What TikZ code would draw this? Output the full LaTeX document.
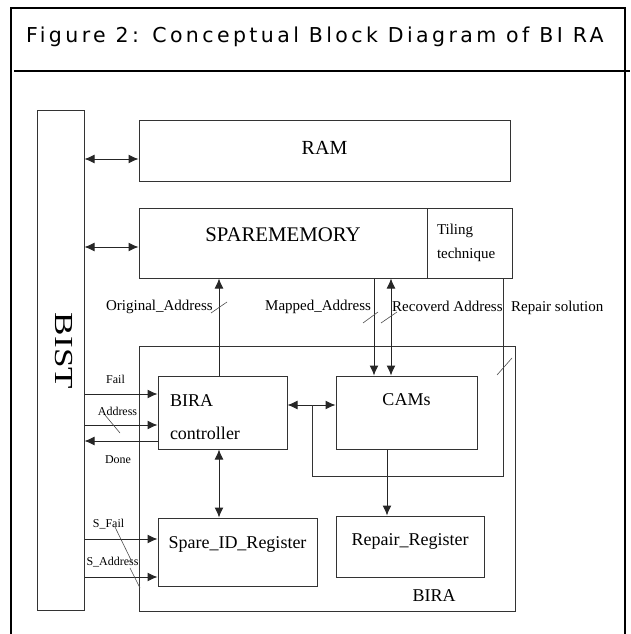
\documentclass[tikz,border=0pt]{standalone}
\usepackage{fontspec}
\setmainfont{Liberation Serif}
\newfontfamily\titlefont{DejaVu Sans}[LetterSpace=16.6]
\usetikzlibrary{arrows.meta}

\begin{document}
\begin{tikzpicture}[
    x=1pt, y=-1pt,
    box/.style={
        draw=black!80,
        line width=1pt,
        inner sep=0pt,
        align=center,
        font=\fontsize{18}{22}\selectfont
    },
    lbl/.style={inner sep=0pt, font=\fontsize{15}{18}\selectfont},
    sig/.style={inner sep=0pt, font=\fontsize{12}{14}\selectfont},
    arrow/.style={-{Latex[length=10pt, width=9pt]}, line width=1pt, draw=black!85},
    dblarrow/.style={{Latex[length=10pt, width=9pt]}-{Latex[length=10pt, width=9pt]}, line width=1pt, draw=black!85},
    wire/.style={line width=1pt, draw=black!80},
    tick/.style={line width=0.6pt, draw=black!70},
    frame/.style={line width=1.6pt}
]
\useasboundingbox (0,0) rectangle (630,634);

% frame and title
\draw[frame] (11,634) -- (11,8) -- (625,8) -- (625,634);
\draw[frame] (14,71) -- (630,71);
\node[anchor=base west, inner sep=0pt, font=\titlefont\fontsize{20.5}{24}\selectfont] (title)
  at (26,43) {Figure 2: Conceptual Block Diagram of BI RA};

% blocks
\node[box, minimum width=47pt, minimum height=500pt] (bist) at (60.5,360) {};
\node[rotate=-90, inner sep=0pt, font=\fontsize{26}{30}\selectfont] (bisttext)
  at (63.5,351) {\scalebox{1.35}[1]{BIST}};
\node[box, minimum width=371pt, minimum height=61pt, font=\fontsize{20}{24}\selectfont,
  text height=13pt, text depth=6pt] (ram) at (324.5,150.5) {RAM};
\node[box, minimum width=288pt, minimum height=70pt, font=\fontsize{20.8}{24}\selectfont,
  text height=13.8pt, text depth=16pt] (spare) at (283,243) {SPAREMEMORY};
\node[box, minimum width=85pt, minimum height=70pt, align=left, text width=65pt,
  font=\fontsize{15}{24}\selectfont] (tiling) at (469.5,243) {Tiling\\technique};
\node[box, minimum width=376pt, minimum height=265pt] (bira) at (327,478.5) {};
\node[anchor=base, inner sep=0pt, font=\fontsize{18}{22}\selectfont] (biratext) at (434,601) {BIRA};
\node[box, minimum width=129pt, minimum height=73pt, align=left, text width=105pt,
  font=\fontsize{18}{33}\selectfont, text depth=23pt] (ctrl) at (222.5,412.5) {BIRA\\controller};
\node[box, minimum width=141pt, minimum height=73pt,
  text height=11.9pt, text depth=25pt] (cams) at (406.5,412.5) {CAMs};
\node[box, minimum width=159pt, minimum height=68pt,
  text height=11.9pt, text depth=18pt] (spareid) at (237.5,552) {Spare\_ID\_Register};
\node[box, minimum width=148pt, minimum height=61pt,
  text height=11.9pt, text depth=13pt] (repreg) at (410,546.5) {Repair\_Register};

% BIST links
\draw[dblarrow] ([yshift=-8.5pt]bist.east |- ram.west) -- ([yshift=-8.5pt]ram.west);
\draw[dblarrow] ([yshift=-4pt]bist.east |- spare.west) -- ([yshift=-4pt]spare.west);
\draw[arrow] ([yshift=18.5pt]bist.east |- ctrl.west) -- ([yshift=18.5pt]ctrl.west);
\draw[arrow] ([yshift=-12.5pt]bist.east |- ctrl.west) -- ([yshift=-12.5pt]ctrl.west);
\draw[arrow] ([yshift=-28.5pt]ctrl.west) -- ([yshift=-28.5pt]bist.east |- ctrl.west);
\draw[arrow] ([yshift=13pt]bist.east |- spareid.west) -- ([yshift=13pt]spareid.west);
\draw[arrow] ([yshift=-25pt]bist.east |- spareid.west) -- ([yshift=-25pt]spareid.west);

\node[sig, anchor=base] (fail) at (115.5,383) {Fail};
\node[sig, anchor=base] (addr) at (117.5,415) {Address};
\node[sig, anchor=base] (done) at (118,463) {Done};
\node[sig, anchor=base] (sfail) at (108.5,527) {S\_Fail};
\node[sig, anchor=base] (saddr) at (112.5,565) {S\_Address};

% address paths
\draw[arrow] ([xshift=-3.5pt]ctrl.north) -- ([xshift=-3.5pt]ctrl.north |- spare.south);
\draw[dblarrow] ([xshift=-3.5pt]ctrl.south) -- ([xshift=-3.5pt]ctrl.south |- spareid.north);
\draw[arrow] ([xshift=-32.5pt]cams.north |- spare.south) -- ([xshift=-32.5pt]cams.north);
\draw[dblarrow] ([xshift=-15.5pt]cams.north |- spare.south) -- ([xshift=-15.5pt]cams.north);
\draw[dblarrow] ([yshift=7.5pt]ctrl.east) -- ([yshift=7.5pt]ctrl.east -| cams.west);
\draw[arrow] ([xshift=-19.5pt]cams.south) -- ([xshift=-19.5pt]cams.south |- repreg.north);

\coordinate (tap) at (312,405);
\coordinate (loopcorner) at (503,476);
\draw[wire] (tiling.south -| loopcorner) -- (loopcorner) -| (tap);

\node[lbl, anchor=base east] (origlbl) at (213,310) {Original\_Address};
\node[lbl, anchor=base west] (maplbl) at (265,310) {Mapped\_Address};
\node[lbl, anchor=base west] (reclbl) at (392,311) {Recoverd Address};
\node[lbl, anchor=base west] (replbl) at (511,311) {Repair solution};

% bus width marks
\draw[tick] (211,313) -- (227,302);
\draw[tick] (363,323) -- (378,312);
\draw[tick] (381,323) -- (397,312);
\draw[tick] (497,375) -- (512,358);
\draw[tick] (105,415) -- (120,433);
\draw[tick] (115,527) -- (132,562);
\draw[tick] (130,568) -- (140,588);
\end{tikzpicture}
\end{document}
